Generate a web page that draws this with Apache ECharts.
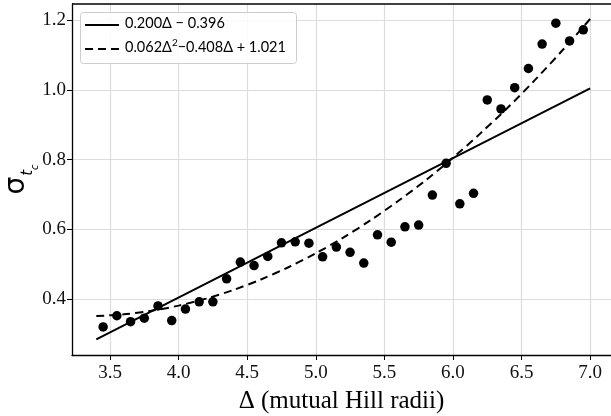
<!DOCTYPE html>
<html><head><meta charset="utf-8">
<script src="https://cdn.jsdelivr.net/npm/echarts@6/dist/echarts.min.js"></script>
<style>html,body{margin:0;padding:0;background:#fff}#c{width:611px;height:416px}</style>
</head><body><div id="c"></div>
<script>
const deltaX = [3.45,3.55,3.65,3.75,3.85,3.95,4.05,4.15,4.25,4.35,4.45,4.55,4.65,4.75,4.85,4.95,5.05,5.15,5.25,5.35,5.45,5.55,5.65,5.75,5.85,5.95,6.05,6.15,6.25,6.35,6.45,6.55,6.65,6.75,6.85,6.95];
const sigmaY = [0.320,0.352,0.335,0.345,0.380,0.338,0.371,0.392,0.392,0.458,0.506,0.496,0.522,0.561,0.564,0.560,0.521,0.549,0.534,0.503,0.584,0.563,0.607,0.612,0.698,0.789,0.673,0.703,0.971,0.945,1.006,1.061,1.131,1.191,1.140,1.172];
const linX = [3.4, 7.0];
const linY = [0.284, 1.004];
const quadX = [3.4,3.6,3.8,4.0,4.2,4.4,4.6,4.8,5.0,5.2,5.4,5.6,5.8,6.0,6.2,6.4,6.6,6.8,7.0];
const quadY = [0.351,0.356,0.366,0.381,0.401,0.426,0.456,0.491,0.531,0.576,0.626,0.681,0.740,0.805,0.875,0.949,1.029,1.114,1.203];
const xTicks = [3.5,4.0,4.5,5.0,5.5,6.0,6.5,7.0];
const yTicks = [0.4,0.6,0.8,1.0,1.2];
const linLabel = '0.200Δ − 0.396';
const quadLabelParts = ['0.062Δ', '2', '−0.408Δ + 1.021'];

const chart = echarts.init(document.getElementById('c'), null, {renderer:'canvas'});
const serif = 'Liberation Serif';
const legSans = 'Lato';
chart.setOption({
  animation:false,
  grid:{left:72, top:4, right:0, bottom:61, containLabel:false, outerBoundsMode:'none'},
  xAxis:{type:'value', min:3.223, max:7.152,
    name:'Δ (mutual Hill radii)', nameLocation:'middle', nameGap:34,
    nameTextStyle:{fontFamily:serif, fontSize:25, color:'#000'},
    axisLine:{show:true, onZero:false, lineStyle:{color:'#000', width:1.3}},
    axisTick:{show:true, length:5, lineStyle:{color:'#000'}, customValues:xTicks},
    axisLabel:{fontFamily:serif, fontSize:19, color:'#111', margin:9, customValues:xTicks,
      formatter:v=>v.toFixed(1)},
    splitLine:{show:true, lineStyle:{color:'#dcdcdc', width:1.2}}
  },
  yAxis:{type:'value', min:0.2394, max:1.246,
    name:'{s|σ}{sub|t}{subsub|c}', nameLocation:'middle', nameGap:41, nameRotate:90, nameMoveOverlap:false,
    nameTextStyle:{rich:{
      s:{fontFamily:'DejaVu Sans', fontSize:28, color:'#000'},
      sub:{fontFamily:'DejaVu Sans', fontStyle:'italic', fontSize:15, color:'#000', verticalAlign:'bottom', padding:[0,0,-5,1]},
      subsub:{fontFamily:'DejaVu Sans', fontStyle:'italic', fontSize:10, color:'#000', verticalAlign:'bottom', padding:[0,0,-9,0]}
    }},
    axisLine:{show:true, onZero:false, lineStyle:{color:'#000', width:1.3}},
    axisTick:{show:true, length:5, lineStyle:{color:'#000'}, customValues:yTicks},
    axisLabel:{fontFamily:serif, fontSize:19, color:'#111', margin:6, customValues:yTicks, formatter:v=>v.toFixed(1)},
    splitLine:{show:true, lineStyle:{color:'#dcdcdc', width:1.2}}
  },
  series:[
    {name:'lin', type:'line', data:linX.map((x,i)=>[x,linY[i]]), symbol:'none', showSymbol:false,
      lineStyle:{color:'#000', width:2}, z:3},
    {name:'quad', type:'line', data:quadX.map((x,i)=>[x,quadY[i]]), symbol:'none', showSymbol:false, smooth:0.3,
      lineStyle:{color:'#000', width:2, type:[8,5]}, z:3},
    {name:'pts', type:'scatter', data:deltaX.map((x,i)=>[x,sigmaY[i]]), symbolSize:9.5,
      itemStyle:{color:'#000', opacity:1}, z:4}
  ],
  graphic:[
    {type:'line', shape:{x1:72,y1:4,x2:611,y2:4}, style:{stroke:'#000', lineWidth:1.3}, z:10},
    {type:'rect', shape:{x:80.5,y:12.5,width:216,height:51,r:3}, style:{fill:'rgba(255,255,255,0.85)', stroke:'#cccccc', lineWidth:1}, z:20},
    {type:'line', shape:{x1:85,y1:25,x2:119,y2:25}, style:{stroke:'#000', lineWidth:2}, z:21},
    {type:'line', shape:{x1:85,y1:49,x2:119,y2:49}, style:{stroke:'#000', lineWidth:2, lineDash:[8,5]}, z:21},
    {type:'text', left:125, top:16, z:21, style:{text:'{t|'+linLabel+'}', rich:{t:{fontFamily:legSans, fontSize:14.5, fill:'#000'}}}},
    {type:'text', left:125, top:38, z:21, style:{text:'{t|'+quadLabelParts[0]+'}{sup|'+quadLabelParts[1]+'}{t|'+quadLabelParts[2]+'}',
      rich:{t:{fontFamily:legSans, fontSize:14.5, fill:'#000'}, sup:{fontFamily:legSans, fontSize:10, fill:'#000', verticalAlign:'top', padding:[0,0,9,0]}}}}
  ]
});
</script></body></html>
